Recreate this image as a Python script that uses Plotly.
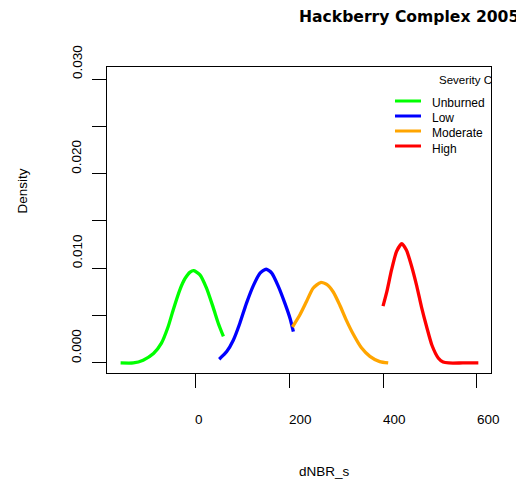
import plotly.graph_objects as go

# ---- data -------------------------------------------------------------
title_text = "Hackberry Complex 2005"
x_label = "dNBR_s"
y_label = "Density"
legend_title = "Severity Class"

class_names = ["Unburned", "Low", "Moderate", "High"]
class_colors = ["#00FF00", "#0000FF", "#FFA500", "#FF0000"]

unburned_x = [-159, -132, -111, -89, -72, -58, -47, -33, -22, -11, -3, 10, 24, 38, 49, 60]
unburned_y = [0.0, 0.0, 0.0003, 0.0010, 0.0021, 0.0038, 0.0056, 0.0077, 0.0089, 0.0096,
              0.00975, 0.0093, 0.0079, 0.0059, 0.0042, 0.0028]

low_x = [51, 67, 81, 95, 109, 124, 138, 151, 163, 177, 191, 202, 209]
low_y = [0.0004, 0.0012, 0.0024, 0.0042, 0.0063, 0.0082, 0.0095, 0.0099, 0.0095,
         0.0081, 0.0063, 0.0047, 0.0033]

moderate_x = [207, 223, 237, 251, 267, 280, 294, 308, 322, 337, 354, 372, 393, 411]
moderate_y = [0.0038, 0.0051, 0.0065, 0.0079, 0.0085, 0.0083, 0.0075, 0.0061, 0.0045,
              0.0030, 0.0016, 0.0007, 0.00014, 0.0]

high_x = [400, 408, 418, 429, 440, 450, 461, 472, 482, 493, 504, 518, 528, 540, 570, 603]
high_y = [0.0060, 0.0075, 0.0098, 0.0118, 0.0126, 0.0119, 0.0102, 0.0081, 0.0059,
          0.0038, 0.0019, 0.0005, 0.0001, 0.0, 0.0, 0.0]

x_ticks = [0, 200, 400, 600]
x_tick_labels = ["0", "200", "400", "600"]
y_ticks = [0.000, 0.005, 0.010, 0.015, 0.020, 0.025, 0.030]
y_label_ticks = [0.000, 0.010, 0.020, 0.030]
y_tick_labels = ["0.000", "0.010", "0.020", "0.030"]

# ---- layout geometry ----------------------------------------------------
W, H = 516, 479
L, R, T, B = 107, 491, 67, 373          # plot box in pixels
x_range = [-188, 630]
y_range = [-0.00106, 0.03127]
FONT = "Liberation Sans, Arial, sans-serif"


def px(xp):
    return (xp - L) / (R - L)


def py(yp):
    return (B - yp) / (B - T)


def dx(xp):
    return x_range[0] + (xp - L) / (R - L) * (x_range[1] - x_range[0])


def dy(yp):
    return y_range[0] + (B - yp) / (B - T) * (y_range[1] - y_range[0])


fig = go.Figure()

series = [(unburned_x, unburned_y), (low_x, low_y), (moderate_x, moderate_y), (high_x, high_y)]
for (xs, ys), name, col in zip(series, class_names, class_colors):
    fig.add_trace(go.Scatter(
        x=xs, y=ys, mode="lines", name=name, showlegend=False,
        line=dict(color=col, width=3.3, shape="spline", smoothing=0.6),
        hoverinfo="skip",
    ))

# legend title, clipped by the plot box
fig.add_trace(go.Scatter(
    x=[dx(439)], y=[dy(81)], mode="text", text=[legend_title],
    textposition="middle right", cliponaxis=True, showlegend=False,
    textfont=dict(family=FONT, size=11.5, color="black"), hoverinfo="skip",
))

shapes = []
annotations = []

# hand-drawn legend
legend_line_y = [101, 116, 131, 146]
legend_text_y = [103, 118, 133, 148.5]
for name, col, ly, ty in zip(class_names, class_colors, legend_line_y, legend_text_y):
    shapes.append(dict(type="line", xref="paper", yref="paper",
                       x0=px(395), x1=px(421), y0=py(ly), y1=py(ly),
                       line=dict(color=col, width=3)))
    annotations.append(dict(text=name, xref="paper", yref="paper", x=px(430), y=py(ty),
                            xanchor="left", yanchor="middle", showarrow=False,
                            font=dict(family=FONT, size=12, color="black")))

# tick labels
for v, t in zip(x_ticks, x_tick_labels):
    annotations.append(dict(text=t, xref="x", yref="paper", x=v, y=py(419),
                            xanchor="left", yanchor="middle", showarrow=False,
                            xshift=-2, font=dict(family=FONT, size=13.5, color="black")))
for v, t in zip(y_label_ticks, y_tick_labels):
    annotations.append(dict(text=t, xref="paper", yref="y", x=px(77), y=v,
                            textangle=-90, xanchor="center", yanchor="bottom",
                            showarrow=False, yshift=-2,
                            font=dict(family=FONT, size=13.5, color="black")))

# axis titles and main title
annotations.append(dict(text=x_label, xref="paper", yref="paper", x=px(297), y=py(471),
                        xanchor="left", yanchor="middle", showarrow=False,
                        font=dict(family=FONT, size=13.5, color="black")))
annotations.append(dict(text=y_label, xref="paper", yref="paper", x=px(22), y=py(216),
                        textangle=-90, xanchor="center", yanchor="bottom", showarrow=False,
                        font=dict(family=FONT, size=13.5, color="black")))
annotations.append(dict(text="<b>" + title_text + "</b>", xref="paper", yref="paper",
                        x=px(297), y=py(17), xanchor="left", yanchor="middle",
                        showarrow=False,
                        font=dict(family="DejaVu Sans, sans-serif", size=15.6, color="black")))

fig.update_layout(
    width=W, height=H,
    margin=dict(l=L, r=W - R, t=T, b=H - B, pad=0),
    paper_bgcolor="white", plot_bgcolor="white",
    shapes=shapes, annotations=annotations,
    showlegend=False,
    xaxis=dict(range=x_range, showgrid=False, zeroline=False,
               showline=True, mirror=True, linecolor="black", linewidth=1,
               ticks="outside", ticklen=14, tickwidth=1, tickcolor="black",
               tickvals=x_ticks, showticklabels=False),
    yaxis=dict(range=y_range, showgrid=False, zeroline=False,
               showline=True, mirror=True, linecolor="black", linewidth=1,
               ticks="outside", ticklen=14, tickwidth=1, tickcolor="black",
               tickvals=y_ticks, showticklabels=False),
)

fig.write_html("out.html")
